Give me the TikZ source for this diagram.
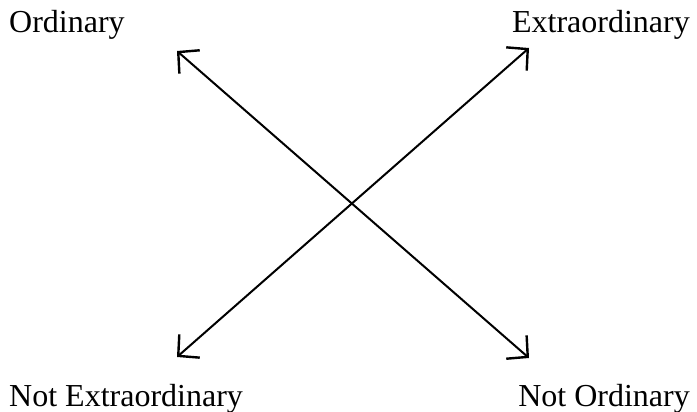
\documentclass[tikz,border=0pt]{standalone}
\usepackage{fontspec}
\setmainfont{Liberation Serif}
\usetikzlibrary{arrows.meta}
\begin{document}
\begin{tikzpicture}[x=1pt,y=-1pt,
  lbl/.style={inner sep=0pt,font=\fontsize{32}{36}\selectfont},
  dbl/.style={line width=2pt,{Straight Barb[length=15pt,width=31pt,line width=2.4pt]}-{Straight Barb[length=15pt,width=31pt,line width=2.4pt]}}]
\useasboundingbox (0,0) rectangle (697,412);
\node[lbl,anchor=base west] (o) at (9,33) {Ordinary};
\node[lbl,anchor=base east] (e) at (690,33) {Extraordinary};
\node[lbl,anchor=base west] (ne) at (9,406) {Not Extraordinary};
\node[lbl,anchor=base east] (no) at (690,406) {Not Ordinary};
\coordinate (tl) at (177,51);
\coordinate (br) at (529,358);
\coordinate (tr) at (529,48);
\coordinate (bl) at (177,357);
\draw[dbl] (tl) -- (br);
\draw[dbl] (bl) -- (tr);
\end{tikzpicture}
\end{document}
